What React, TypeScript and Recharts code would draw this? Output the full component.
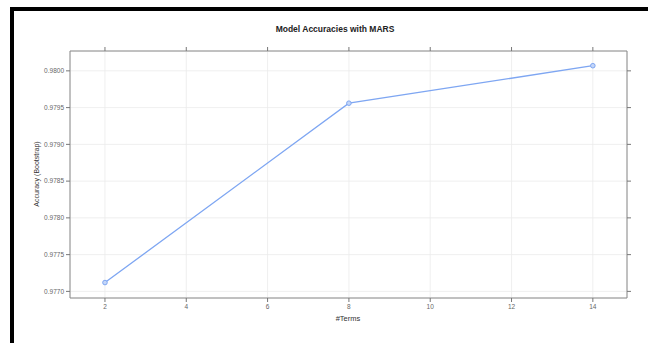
import React from "react";
import { CartesianGrid, Line, LineChart, XAxis, YAxis } from "recharts";

const terms = [2, 8, 14];
const accuracy = [0.97712, 0.97956, 0.98007];
const xTicks = [2, 4, 6, 8, 10, 12, 14];
const yTicks = [0.977, 0.9775, 0.978, 0.9785, 0.979, 0.9795, 0.98];

const data = terms.map((t, i) => ({ terms: t, acc: accuracy[i] }));

const frame = "#8a8a8a";
const tickFont = { fontSize: 6.5, fill: "#666", fontFamily: "Liberation Sans, Arial, sans-serif" };

export default function App() {
  return (
    <div
      style={{
        position: "absolute",
        left: 0,
        top: 0,
        width: 648,
        height: 343,
        background: "#fff",
        overflow: "hidden",
        fontFamily: "Liberation Sans, Arial, sans-serif",
      }}
    >
      <div
        style={{
          position: "absolute",
          left: 10,
          top: 7,
          width: 660,
          height: 360,
          border: "4px solid #000",
        }}
      />
      <div
        style={{
          position: "absolute",
          left: 11,
          width: 648,
          top: 24,
          textAlign: "center",
          fontSize: 8.5,
          fontWeight: "bold",
          color: "#222",
        }}
      >
        Model Accuracies with MARS
      </div>
      <div
        style={{
          position: "absolute",
          left: 36,
          top: 174,
          transform: "translate(-50%, -50%) rotate(-90deg)",
          fontSize: 7,
          color: "#333",
          whiteSpace: "nowrap",
        }}
      >
        Accuracy (Bootstrap)
      </div>
      <div
        style={{
          position: "absolute",
          left: 348,
          top: 318,
          transform: "translate(-50%, -50%)",
          fontSize: 7.5,
          color: "#333",
        }}
      >
        #Terms
      </div>
      <div style={{ position: "absolute", left: 0, top: 0 }}>
        <LineChart
          width={648}
          height={343}
          data={data}
          margin={{ top: 41, right: 6, bottom: 15, left: 10 }}
        >
          <CartesianGrid stroke="#ebebeb" strokeWidth={0.8} />
          <XAxis
            dataKey="terms"
            type="number"
            domain={[1.14, 14.84]}
            ticks={xTicks}
            allowDataOverflow
            height={30}
            tickSize={4}
            stroke={frame}
            tick={tickFont}
            tickLine={{ stroke: "#777" }}
          />
          <XAxis
            xAxisId="top"
            orientation="top"
            dataKey="terms"
            type="number"
            domain={[1.14, 14.84]}
            ticks={xTicks}
            allowDataOverflow
            height={10}
            tickSize={4}
            stroke={frame}
            tickFormatter={() => ""}
            tickLine={{ stroke: "#777" }}
          />
          <YAxis
            type="number"
            domain={[0.97691, 0.98027]}
            ticks={yTicks}
            allowDataOverflow
            width={60}
            tickSize={4}
            stroke={frame}
            tick={tickFont}
            tickLine={{ stroke: "#777" }}
            tickFormatter={(v: number) => v.toFixed(4)}
          />
          <YAxis
            yAxisId="right"
            orientation="right"
            type="number"
            domain={[0.97691, 0.98027]}
            ticks={yTicks}
            allowDataOverflow
            width={15}
            tickSize={4}
            stroke={frame}
            tickFormatter={() => ""}
            tickLine={{ stroke: "#777" }}
          />
          <Line
            dataKey="acc"
            stroke="#7ea6f2"
            strokeWidth={1.3}
            dot={{ r: 2.3, stroke: "#7ea6f2", strokeWidth: 1, fill: "#c4d6f8" }}
            isAnimationActive={false}
          />
        </LineChart>
      </div>
    </div>
  );
}
